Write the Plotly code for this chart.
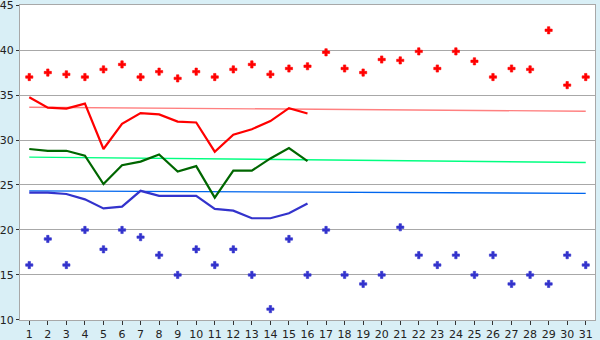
import plotly.graph_objects as go

days = list(range(1, 32))
line_days = list(range(1, 17))
y_ticks = [10, 15, 20, 25, 30, 35, 40, 45]

red_points = [37.0, 37.5, 37.3, 37.0, 37.85, 38.4, 37.0, 37.6, 36.85, 37.6,
              37.0, 37.85, 38.4, 37.3, 37.95, 38.2, 39.75, 37.95, 37.5, 38.95,
              38.85, 39.85, 37.95, 39.85, 38.75, 37.0, 37.95, 37.85, 42.2, 36.1, 37.0]
blue_points = [16.1, 19.0, 16.1, 20.0, 17.85, 20.0, 19.2, 17.2, 15.0, 17.85,
               16.1, 17.85, 15.0, 11.2, 19.0, 15.0, 20.0, 15.0, 14.0, 15.0,
               20.3, 17.2, 16.1, 17.2, 15.0, 17.2, 14.0, 15.0, 14.0, 17.2, 16.1]

red_line = [34.75, 33.6, 33.5, 34.05, 29.0, 31.8, 33.0, 32.85, 32.05, 31.95,
            28.7, 30.6, 31.2, 32.1, 33.55, 32.95]
green_line = [29.0, 28.8, 28.8, 28.25, 25.1, 27.2, 27.6, 28.4, 26.5, 27.1,
              23.6, 26.6, 26.6, 27.95, 29.1, 27.65]
blue_line = [24.15, 24.15, 24.0, 23.4, 22.4, 22.6, 24.35, 23.8, 23.8, 23.8,
             22.35, 22.15, 21.3, 21.3, 21.85, 22.95]

trend_days = [1, 31]
red_trend = [33.65, 33.2]
green_trend = [28.1, 27.5]
blue_trend = [24.35, 24.07]

fig = go.Figure()

fig.add_trace(go.Scatter(x=trend_days, y=red_trend, mode="lines",
                         line=dict(color="#FF8080", width=1.4), showlegend=False))
fig.add_trace(go.Scatter(x=trend_days, y=green_trend, mode="lines",
                         line=dict(color="#00FF80", width=1.4), showlegend=False))
fig.add_trace(go.Scatter(x=trend_days, y=blue_trend, mode="lines",
                         line=dict(color="#0066EE", width=1.4), showlegend=False))

fig.add_trace(go.Scatter(x=line_days, y=red_line, mode="lines",
                         line=dict(color="#FF0000", width=2.2), showlegend=False))
fig.add_trace(go.Scatter(x=line_days, y=green_line, mode="lines",
                         line=dict(color="#006600", width=2.2), showlegend=False))
fig.add_trace(go.Scatter(x=line_days, y=blue_line, mode="lines",
                         line=dict(color="#3333CC", width=2.2), showlegend=False))

fig.add_trace(go.Scatter(x=days, y=red_points, mode="markers",
                         marker=dict(symbol="cross", size=6, color="#FF0000",
                                     line=dict(width=0.6, color="#FF0000")),
                         showlegend=False))
fig.add_trace(go.Scatter(x=days, y=blue_points, mode="markers",
                         marker=dict(symbol="cross", size=6, color="#3333CC",
                                     line=dict(width=0.6, color="#3333CC")),
                         showlegend=False))

axis_col = "#A8A8A8"
fig.update_layout(
    width=600, height=340,
    margin=dict(l=20, r=5, t=5, b=20),
    paper_bgcolor="#D9EFF6",
    plot_bgcolor="#FFFFFF",
    font=dict(family="DejaVu Sans", size=11, color="#222222"),
    xaxis=dict(range=[0.5, 31.5], tickmode="array", tickvals=days,
               ticktext=[str(d) for d in days], showgrid=False, zeroline=False,
               showline=True, linecolor=axis_col, linewidth=1, mirror=True,
               ticks="outside", ticklen=4, tickcolor="#333333", tickwidth=1,
               ticklabeloverflow="allow", automargin=False),
    yaxis=dict(range=[9.99, 45.01], tickmode="array", tickvals=y_ticks,
               ticktext=[str(v) for v in y_ticks], showgrid=True, gridcolor=axis_col,
               gridwidth=1, zeroline=False, showline=True, linecolor=axis_col,
               linewidth=1, mirror=True, ticks="outside", ticklen=3,
               tickcolor="#333333", tickwidth=1, ticklabeloverflow="allow",
               automargin=False),
)

fig.write_html("out.html")
